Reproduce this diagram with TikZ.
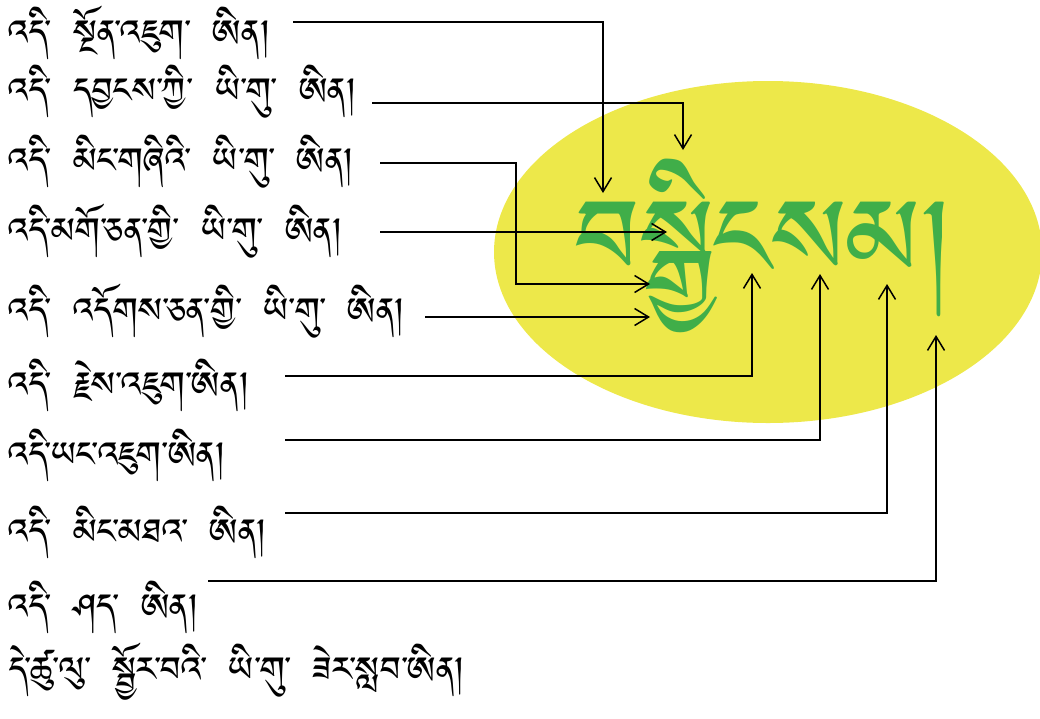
\documentclass[tikz,border=0pt]{standalone}
\usepackage{fontspec}
\usetikzlibrary{arrows.meta}
\IfFontExistsTF{Jomolhari}{\newfontfamily\tib[Script=Tibetan]{Jomolhari}}{%
\IfFontExistsTF{Tibetan Machine Uni}{\newfontfamily\tib[Script=Tibetan]{Tibetan Machine Uni}}{%
\IfFontExistsTF{Noto Sans Tibetan}{\newfontfamily\tib[Script=Tibetan]{Noto Sans Tibetan}}{%
\newfontfamily\tib{DejaVu Sans}}}}
\definecolor{ovalyellow}{RGB}{237,232,74}
\definecolor{wordgreen}{RGB}{64,174,73}
\tikzset{
  lbl/.style={anchor=west, inner sep=0pt, font={\tib\fontsize{44}{50}\selectfont\spaceskip=22pt\relax}},
  arr/.style={line width=1.6pt, -{Straight Barb[length=14pt,width=17pt,line width=1.5pt]}},
  bigword/.style={inner sep=0pt, text=wordgreen, font=\tib\fontsize{136}{150}\selectfont}
}
\begin{document}
\begin{tikzpicture}[x=1pt,y=-1pt]
\useasboundingbox (0,0) rectangle (1040,718);
\fill[ovalyellow] (768,252) ellipse [x radius=274, y radius=171];
\node[bigword] (w) at (764,246) {བསྒྱིངསམ།};
\node[lbl] (t1) at (8,33) {འདི་ སྔོན་འཇུག་ ཨིན།};
\node[lbl] (t2) at (8,92) {འདི་ དབྱངས་ཀྱི་ ཡི་གུ་ ཨིན།};
\node[lbl] (t3) at (8,162) {འདི་ མིང་གཞིའི་ ཡི་གུ་ ཨིན།};
\node[lbl] (t4) at (8,231) {འདི་མགོ་ཅན་གྱི་ ཡི་གུ་ ཨིན།};
\node[lbl] (t5) at (8,311) {འདི་ འདོགས་ཅན་གྱི་ ཡི་གུ་ ཨིན།};
\node[lbl] (t6) at (8,385) {འདི་ རྗེས་འཇུག་ཨིན།};
\node[lbl] (t7) at (8,455) {འདི་ཡང་འཇུག་ཨིན།};
\node[lbl] (t8) at (8,532) {འདི་ མིང་མཐའ་ ཨིན།};
\node[lbl] (t9) at (8,607) {འདི་ ཤད་ ཨིན།};
\node[lbl] (t10) at (8,672) {དེ་ཚུ་ལུ་ སྦྱོར་བའི་ ཡི་གུ་ ཟེར་སླབ་ཨིན།};
% start points
\coordinate (s1) at (293,22);
\coordinate (s2) at (372,103);
\coordinate (s3) at (380,163);
\coordinate (s4) at (380,232);
\coordinate (s5) at (425,317);
\coordinate (s6) at (285,376);
\coordinate (s7) at (285,440);
\coordinate (s8) at (285,513);
\coordinate (s9) at (208,581);
% targets
\coordinate (e1) at (603,193);
\coordinate (e2) at (683,150);
\coordinate (b3) at (516,284);
\coordinate (e3) at (650,284);
\coordinate (e4) at (667,232);
\coordinate (e5) at (650,317);
\coordinate (e6) at (752,273);
\coordinate (e7) at (820,274);
\coordinate (e8) at (887,284);
\coordinate (e9) at (936,335);
\draw[arr] (s1) -| (e1);
\draw[arr] (s2) -| (e2);
\draw[arr] (s3) -| (b3) -- (e3);
\draw[arr] (s4) -- (e4);
\draw[arr] (s5) -- (e5);
\draw[arr] (s6) -| (e6);
\draw[arr] (s7) -| (e7);
\draw[arr] (s8) -| (e8);
\draw[arr] (s9) -| (e9);
\end{tikzpicture}
\end{document}
